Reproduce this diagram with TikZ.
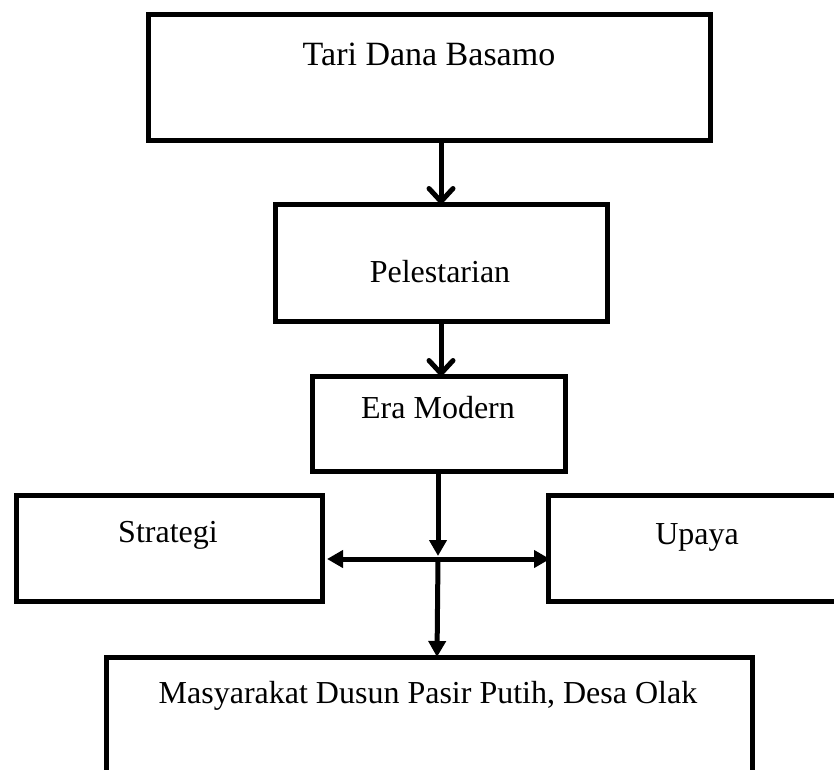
\documentclass[tikz,border=0pt]{standalone}
\usepackage{fontspec}
\setmainfont{Liberation Serif}
\usetikzlibrary{arrows.meta}
\tikzset{
  box/.style={draw=black, line width=5pt, rectangle, inner sep=0pt, outer sep=0pt, fill=none},
  lbl/.style={anchor=base, inner sep=0pt, font=\fontsize{32}{38}\selectfont},
  barb/.style={line width=5pt, -{Straight Barb[length=13pt,width=24pt,line cap=round,line join=round]}},
  tri/.style={line width=5pt, -{Triangle[length=16pt,width=17pt]}},
  dtri/.style={line width=5pt, {Triangle[length=16pt,width=17pt]}-{Triangle[length=16pt,width=17pt]}}
}
\begin{document}
\begin{tikzpicture}[x=1pt,y=-1pt]
\useasboundingbox (0,0) rectangle (834,769);
\clip (0,0) rectangle (834,769);
% boxes
\node[box, minimum width=562pt, minimum height=126pt] (b1) at (429,77) {};
\node[box, minimum width=332pt, minimum height=117pt] (b2) at (441,262.5) {};
\node[box, minimum width=253pt, minimum height=95pt] (b3) at (438.5,423.5) {};
\node[box, minimum width=306pt, minimum height=106pt] (strat) at (169,548) {};
\node[box, minimum width=302pt, minimum height=106pt] (upaya) at (699,548) {};
\node[box, minimum width=646pt, minimum height=143pt] (bot) at (429,728.5) {};
% texts
\node[lbl, font=\fontsize{34}{40}\selectfont] (t1) at (429,65) {Tari Dana Basamo};
\node[lbl] (t2) at (440,282) {Pelestarian};
\node[lbl] (t3) at (438,418) {Era Modern};
\node[lbl] (t4) at (168,542) {Strategi};
\node[lbl] (t5) at (697,544) {Upaya};
\node[lbl] (t6) at (428,703) {Masyarakat Dusun Pasir Putih, Desa Olak};
% connectors
\coordinate (c) at (438,559);
\draw[barb] (b1.south -| b2.north) -- (b2.north);
\draw[barb] (b2.south) -- (b2.south |- b3.north);
\draw[tri, shorten >=3pt] (b3.south -| c) -- (c);
\draw[dtri, shorten <=5pt, shorten >=-2pt] (strat.east |- c) -- (upaya.west |- c);
\draw[tri] (c) -- ([xshift=-1pt]c |- bot.north);
\end{tikzpicture}
\end{document}
